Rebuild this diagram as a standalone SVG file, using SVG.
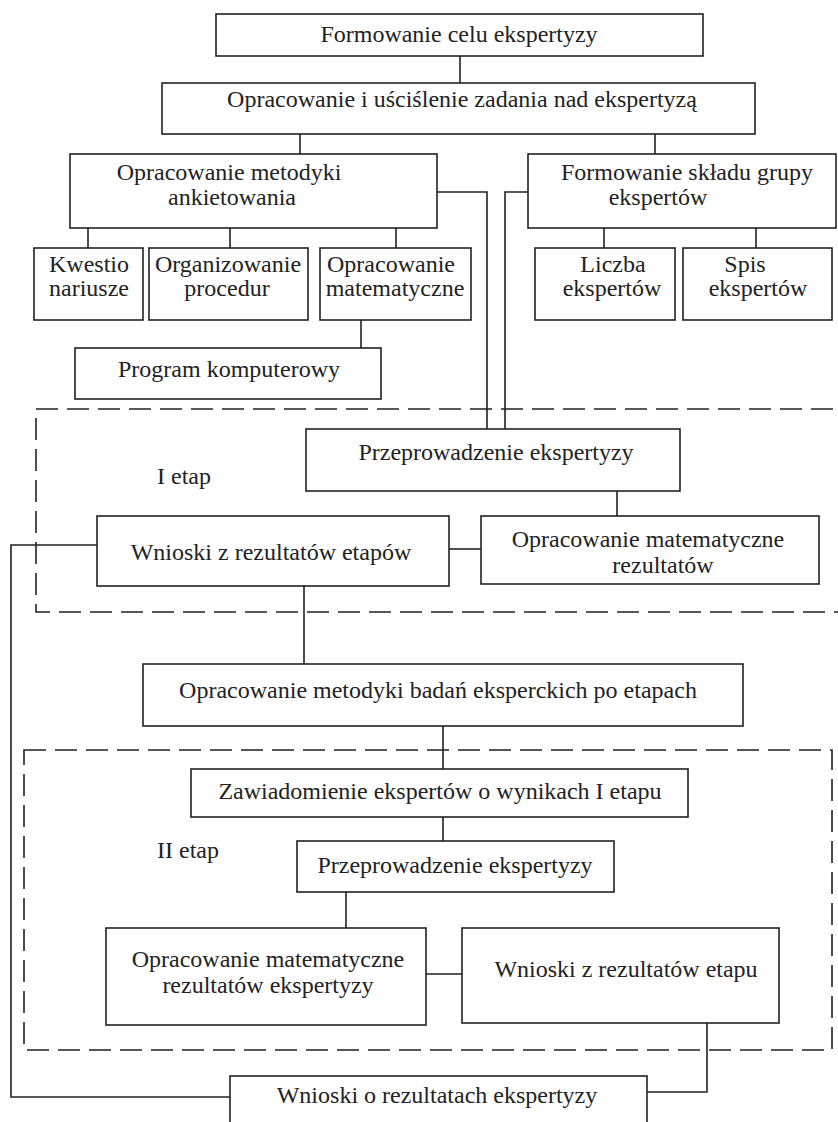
<svg xmlns="http://www.w3.org/2000/svg" width="838" height="1122" viewBox="0 0 838 1122">
<style>
.box{fill:#fff;stroke:#222;stroke-width:1.6}
.ln{fill:none;stroke:#222;stroke-width:1.6}
.dash{fill:none;stroke:#222;stroke-width:1.6;stroke-dasharray:22 9}
text{font-family:"Liberation Serif","Times New Roman",serif;font-size:24px;fill:#222;text-anchor:middle}
</style>
<rect width="838" height="1122" fill="#fff"/>
<g id="stage1"><rect class="dash" x="36" y="409" width="820" height="203"/><text x="184" y="484">I etap</text></g>
<g id="stage2"><rect class="dash" x="24" y="750" width="808" height="300"/><text x="188" y="858">II etap</text></g>
<g id="connectors">
<path class="ln" d="M460 56V83"/>
<path class="ln" d="M300 134V154"/>
<path class="ln" d="M655 134V154"/>
<path class="ln" d="M88 228V248M230 228V248M396 228V248"/>
<path class="ln" d="M604 228V248M756 228V248"/>
<path class="ln" d="M361 320V348"/>
<path class="ln" d="M437 192H487V429"/>
<path class="ln" d="M528 192H505V429"/>
<path class="ln" d="M617 491V516"/>
<path class="ln" d="M449 549H481"/>
<path class="ln" d="M97 545H11V1097H230"/>
<path class="ln" d="M304 586V664"/>
<path class="ln" d="M443 726V769"/>
<path class="ln" d="M443 817V841"/>
<path class="ln" d="M346 892V928"/>
<path class="ln" d="M426 974H462"/>
<path class="ln" d="M707 1023V1092H647"/>
</g>
<g id="n1"><rect class="box" x="216" y="14" width="487" height="42"/><text x="459" y="42">Formowanie celu ekspertyzy</text></g>
<g id="n2"><rect class="box" x="162" y="83" width="593" height="51"/><text x="462" y="107">Opracowanie i uściślenie zadania nad ekspertyzą</text></g>
<g id="n3"><rect class="box" x="70" y="154" width="367" height="74"/><text x="229" y="180">Opracowanie metodyki</text><text x="232" y="205">ankietowania</text></g>
<g id="n4"><rect class="box" x="528" y="154" width="308" height="74"/><text x="687" y="180">Formowanie składu grupy</text><text x="658" y="205">ekspertów</text></g>
<g id="n5"><rect class="box" x="34" y="248" width="109" height="72"/><text x="89" y="272">Kwestio</text><text x="89" y="296">nariusze</text></g>
<g id="n6"><rect class="box" x="149" y="248" width="159" height="72"/><text x="228" y="272">Organizowanie</text><text x="227" y="296">procedur</text></g>
<g id="n7"><rect class="box" x="320" y="248" width="151" height="72"/><text x="391" y="272">Opracowanie</text><text x="395" y="296">matematyczne</text></g>
<g id="n8"><rect class="box" x="535" y="248" width="140" height="72"/><text x="613" y="272">Liczba</text><text x="612" y="296">ekspertów</text></g>
<g id="n9"><rect class="box" x="683" y="248" width="149" height="72"/><text x="745" y="272">Spis</text><text x="758" y="296">ekspertów</text></g>
<g id="n10"><rect class="box" x="75" y="348" width="306" height="51"/><text x="229" y="377">Program komputerowy</text></g>
<g id="n11"><rect class="box" x="306" y="429" width="374" height="62"/><text x="496" y="460">Przeprowadzenie ekspertyzy</text></g>
<g id="n12"><rect class="box" x="97" y="516" width="352" height="70"/><text x="271" y="560">Wnioski z rezultatów etapów</text></g>
<g id="n13"><rect class="box" x="481" y="516" width="338" height="68"/><text x="648" y="547">Opracowanie matematyczne</text><text x="663" y="573">rezultatów</text></g>
<g id="n14"><rect class="box" x="143" y="664" width="600" height="62"/><text x="438" y="698">Opracowanie metodyki badań eksperckich po etapach</text></g>
<g id="n15"><rect class="box" x="191" y="769" width="497" height="48"/><text x="440" y="799">Zawiadomienie ekspertów o wynikach I etapu</text></g>
<g id="n16"><rect class="box" x="297" y="841" width="317" height="51"/><text x="455" y="873">Przeprowadzenie ekspertyzy</text></g>
<g id="n17"><rect class="box" x="106" y="928" width="320" height="97"/><text x="268" y="967">Opracowanie matematyczne</text><text x="268" y="993">rezultatów ekspertyzy</text></g>
<g id="n18"><rect class="box" x="462" y="928" width="317" height="95"/><text x="626" y="977">Wnioski z rezultatów etapu</text></g>
<g id="n19"><rect class="box" x="230" y="1076" width="417" height="60"/><text x="437" y="1103">Wnioski o rezultatach ekspertyzy</text></g>
</svg>
